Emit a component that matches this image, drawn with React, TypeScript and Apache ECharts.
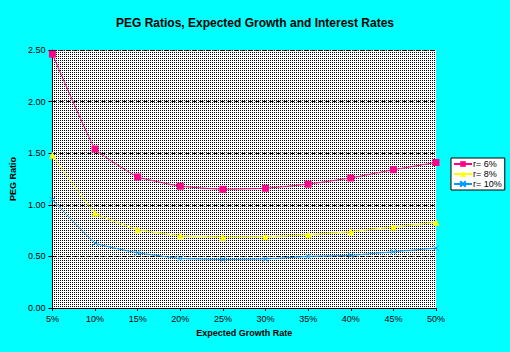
import React, { useEffect, useRef } from "react";
import * as echarts from "echarts";

const growthRates = ["5%", "10%", "15%", "20%", "25%", "30%", "35%", "40%", "45%", "50%"];
const peg6 = [2.46, 1.54, 1.27, 1.18, 1.15, 1.16, 1.2, 1.26, 1.34, 1.41];
const peg8 = [1.48, 0.92, 0.76, 0.7, 0.685, 0.69, 0.71, 0.74, 0.785, 0.83];
const peg10 = [1.05, 0.63, 0.535, 0.48, 0.47, 0.475, 0.5, 0.51, 0.545, 0.58];
const seriesNames = ["r= 6%", "r= 8%", "r= 10%"];

function makePattern(): string {
  const c = document.createElement("canvas");
  c.width = 2;
  c.height = 2;
  const ctx = c.getContext("2d")!;
  ctx.fillStyle = "#ffffff";
  ctx.fillRect(0, 0, 2, 2);
  ctx.fillStyle = "#000000";
  ctx.fillRect(0, 0, 1, 1);
  return c.toDataURL();
}

const FONT = "'Liberation Sans', Arial, sans-serif";

export default function App() {
  const ref = useRef<HTMLDivElement>(null);
  useEffect(() => {
    if (!ref.current) return;
    const chart = echarts.init(ref.current, undefined, { renderer: "svg" });
    const pattern = makePattern();
    chart.setOption({
      animation: false,
      backgroundColor: "#00ffff",
      textStyle: { fontFamily: FONT },
      title: {
        text: "PEG Ratios, Expected Growth and Interest Rates",
        left: "center",
        top: 12,
        textStyle: { fontSize: 12, fontWeight: "bold", color: "#000", fontFamily: FONT },
      },
      grid: {
        left: 48,
        right: 74,
        top: 50,
        bottom: 44,
        show: true,
        backgroundColor: { image: pattern, repeat: "repeat" } as any,
        borderWidth: 0,
      },
      legend: {
        orient: "vertical",
        left: 451,
        top: 158,
        padding: [1, 3, 1, 2],
        itemGap: 0,
        itemWidth: 18,
        itemHeight: 7,
        backgroundColor: "#ffffff",
        borderColor: "#000000",
        borderWidth: 1,
        borderRadius: 0,
        textStyle: { fontSize: 9, color: "#000", padding: [0, 0, 0, -4], lineHeight: 10 },
        data: seriesNames,
      },
      xAxis: {
        type: "category",
        data: growthRates,
        boundaryGap: false,
        name: "Expected Growth Rate",
        nameLocation: "middle",
        nameGap: 20,
        nameTextStyle: { fontSize: 9, fontWeight: "bold", color: "#000" },
        axisLine: { lineStyle: { color: "#000", width: 1 } },
        axisTick: { length: 3, lineStyle: { color: "#000" } },
        axisLabel: { fontSize: 9, color: "#000", margin: 6 },
        splitLine: { show: false },
      },
      yAxis: {
        type: "value",
        min: 0,
        max: 2.5,
        interval: 0.5,
        name: "PEG Ratio",
        nameLocation: "middle",
        nameGap: 28,
        nameTextStyle: { fontSize: 9, fontWeight: "bold", color: "#000" },
        axisLine: { show: true, lineStyle: { color: "#000", width: 1 } },
        axisTick: { show: true, length: 4, lineStyle: { color: "#000" } },
        axisLabel: { fontSize: 9, color: "#000", margin: 7, formatter: (v: number) => v.toFixed(2) },
        splitLine: { show: true, lineStyle: { color: "#000", type: [4, 3], width: 1 } },
      },
      series: [
        {
          name: seriesNames[0],
          type: "line",
          data: peg6,
          smooth: 0.1,
          symbol: "rect",
          symbolSize: 7,
          color: "#ff0088",
          lineStyle: { width: 1, color: "#ff0088" },
          itemStyle: { color: "#ff0088" },
        },
        {
          name: seriesNames[1],
          type: "line",
          data: peg8,
          smooth: 0.1,
          symbol: "triangle",
          symbolSize: 7,
          color: "#ffff00",
          lineStyle: { width: 1, color: "#ffff00" },
          itemStyle: { color: "#ffff00" },
        },
        {
          name: seriesNames[2],
          type: "line",
          data: peg10,
          smooth: 0.1,
          symbol: "path://M0,0L10,10M10,0L0,10",
          symbolSize: 6,
          color: "#0099ff",
          lineStyle: { width: 1, color: "#0099ff" },
          itemStyle: { color: "#0099ff", borderColor: "#0099ff", borderWidth: 1 },
        },
      ],
    });
    return () => chart.dispose();
  }, []);
  return <div ref={ref} style={{ width: 510, height: 352, position: "fixed", left: 0, top: 0 }} />;
}
